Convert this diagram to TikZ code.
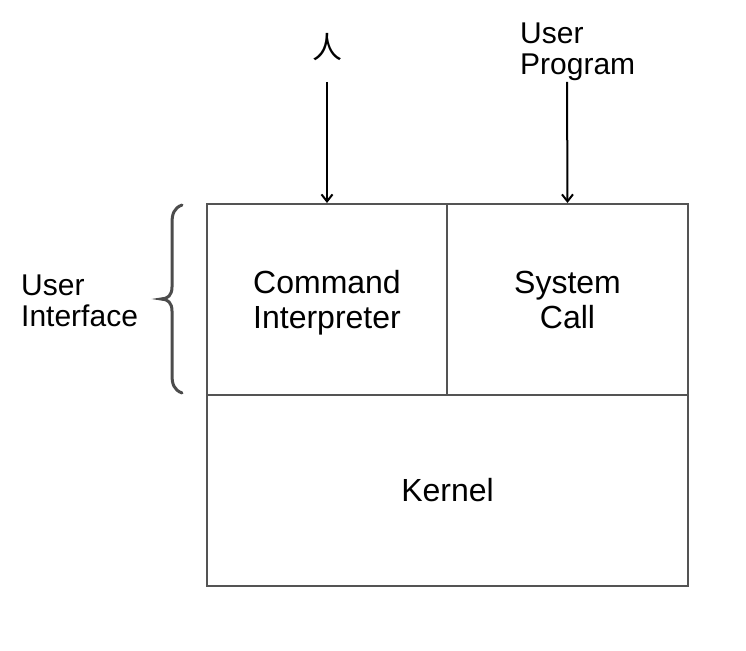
\documentclass[tikz,border=0pt]{standalone}
\usepackage{fontspec}
\setmainfont{Liberation Sans}
\newfontfamily\cjk{Noto Sans CJK SC}
\usetikzlibrary{arrows.meta}
\begin{document}
\begin{tikzpicture}[x=1pt,y=1pt,
  cell/.style={draw=black!67,line width=2pt,minimum width=#1,minimum height=191pt,inner sep=0pt,align=center,font=\fontsize{32}{35}\selectfont},
  outer/.style={inner sep=0pt,align=left,font=\fontsize{30}{31}\selectfont},
  feed/.style={-{Straight Barb[length=7pt,width=11pt]},line width=2pt}]
\useasboundingbox (0,0) rectangle (746,650);
\node[cell=240pt] (cmd) at (327,350.5) {Command\\Inter\smash{p}reter};
\node[cell=241pt] (sys) at (567.5,350.5) {System\\Call};
\node[cell=481pt] (kern) at (447.5,159.5) {Kernel};
\node[inner sep=0pt,font=\cjk\fontsize{30}{30}\selectfont] (ren) at (327,603) {人};
\node[outer,anchor=west] (prog) at (520,598) {User\\Program};
\node[outer,anchor=west] (ui) at (21,349) {User\\Interface};
\coordinate (renend) at (327,568);
\coordinate (progend) at (567,568);
\draw[feed] (renend) -- (cmd.north);
\draw[feed] (progend) -- (sys.north);
\draw[black!70,line width=3pt,line cap=round] (182,445) .. controls (174,442) and (172,436) .. (172,427) -- (172,363) .. controls (172,355) and (168,351) .. (161,351) .. controls (168,351) and (172,347) .. (172,339) -- (172,275) .. controls (172,266) and (174,260) .. (182,257);
\end{tikzpicture}
\end{document}
